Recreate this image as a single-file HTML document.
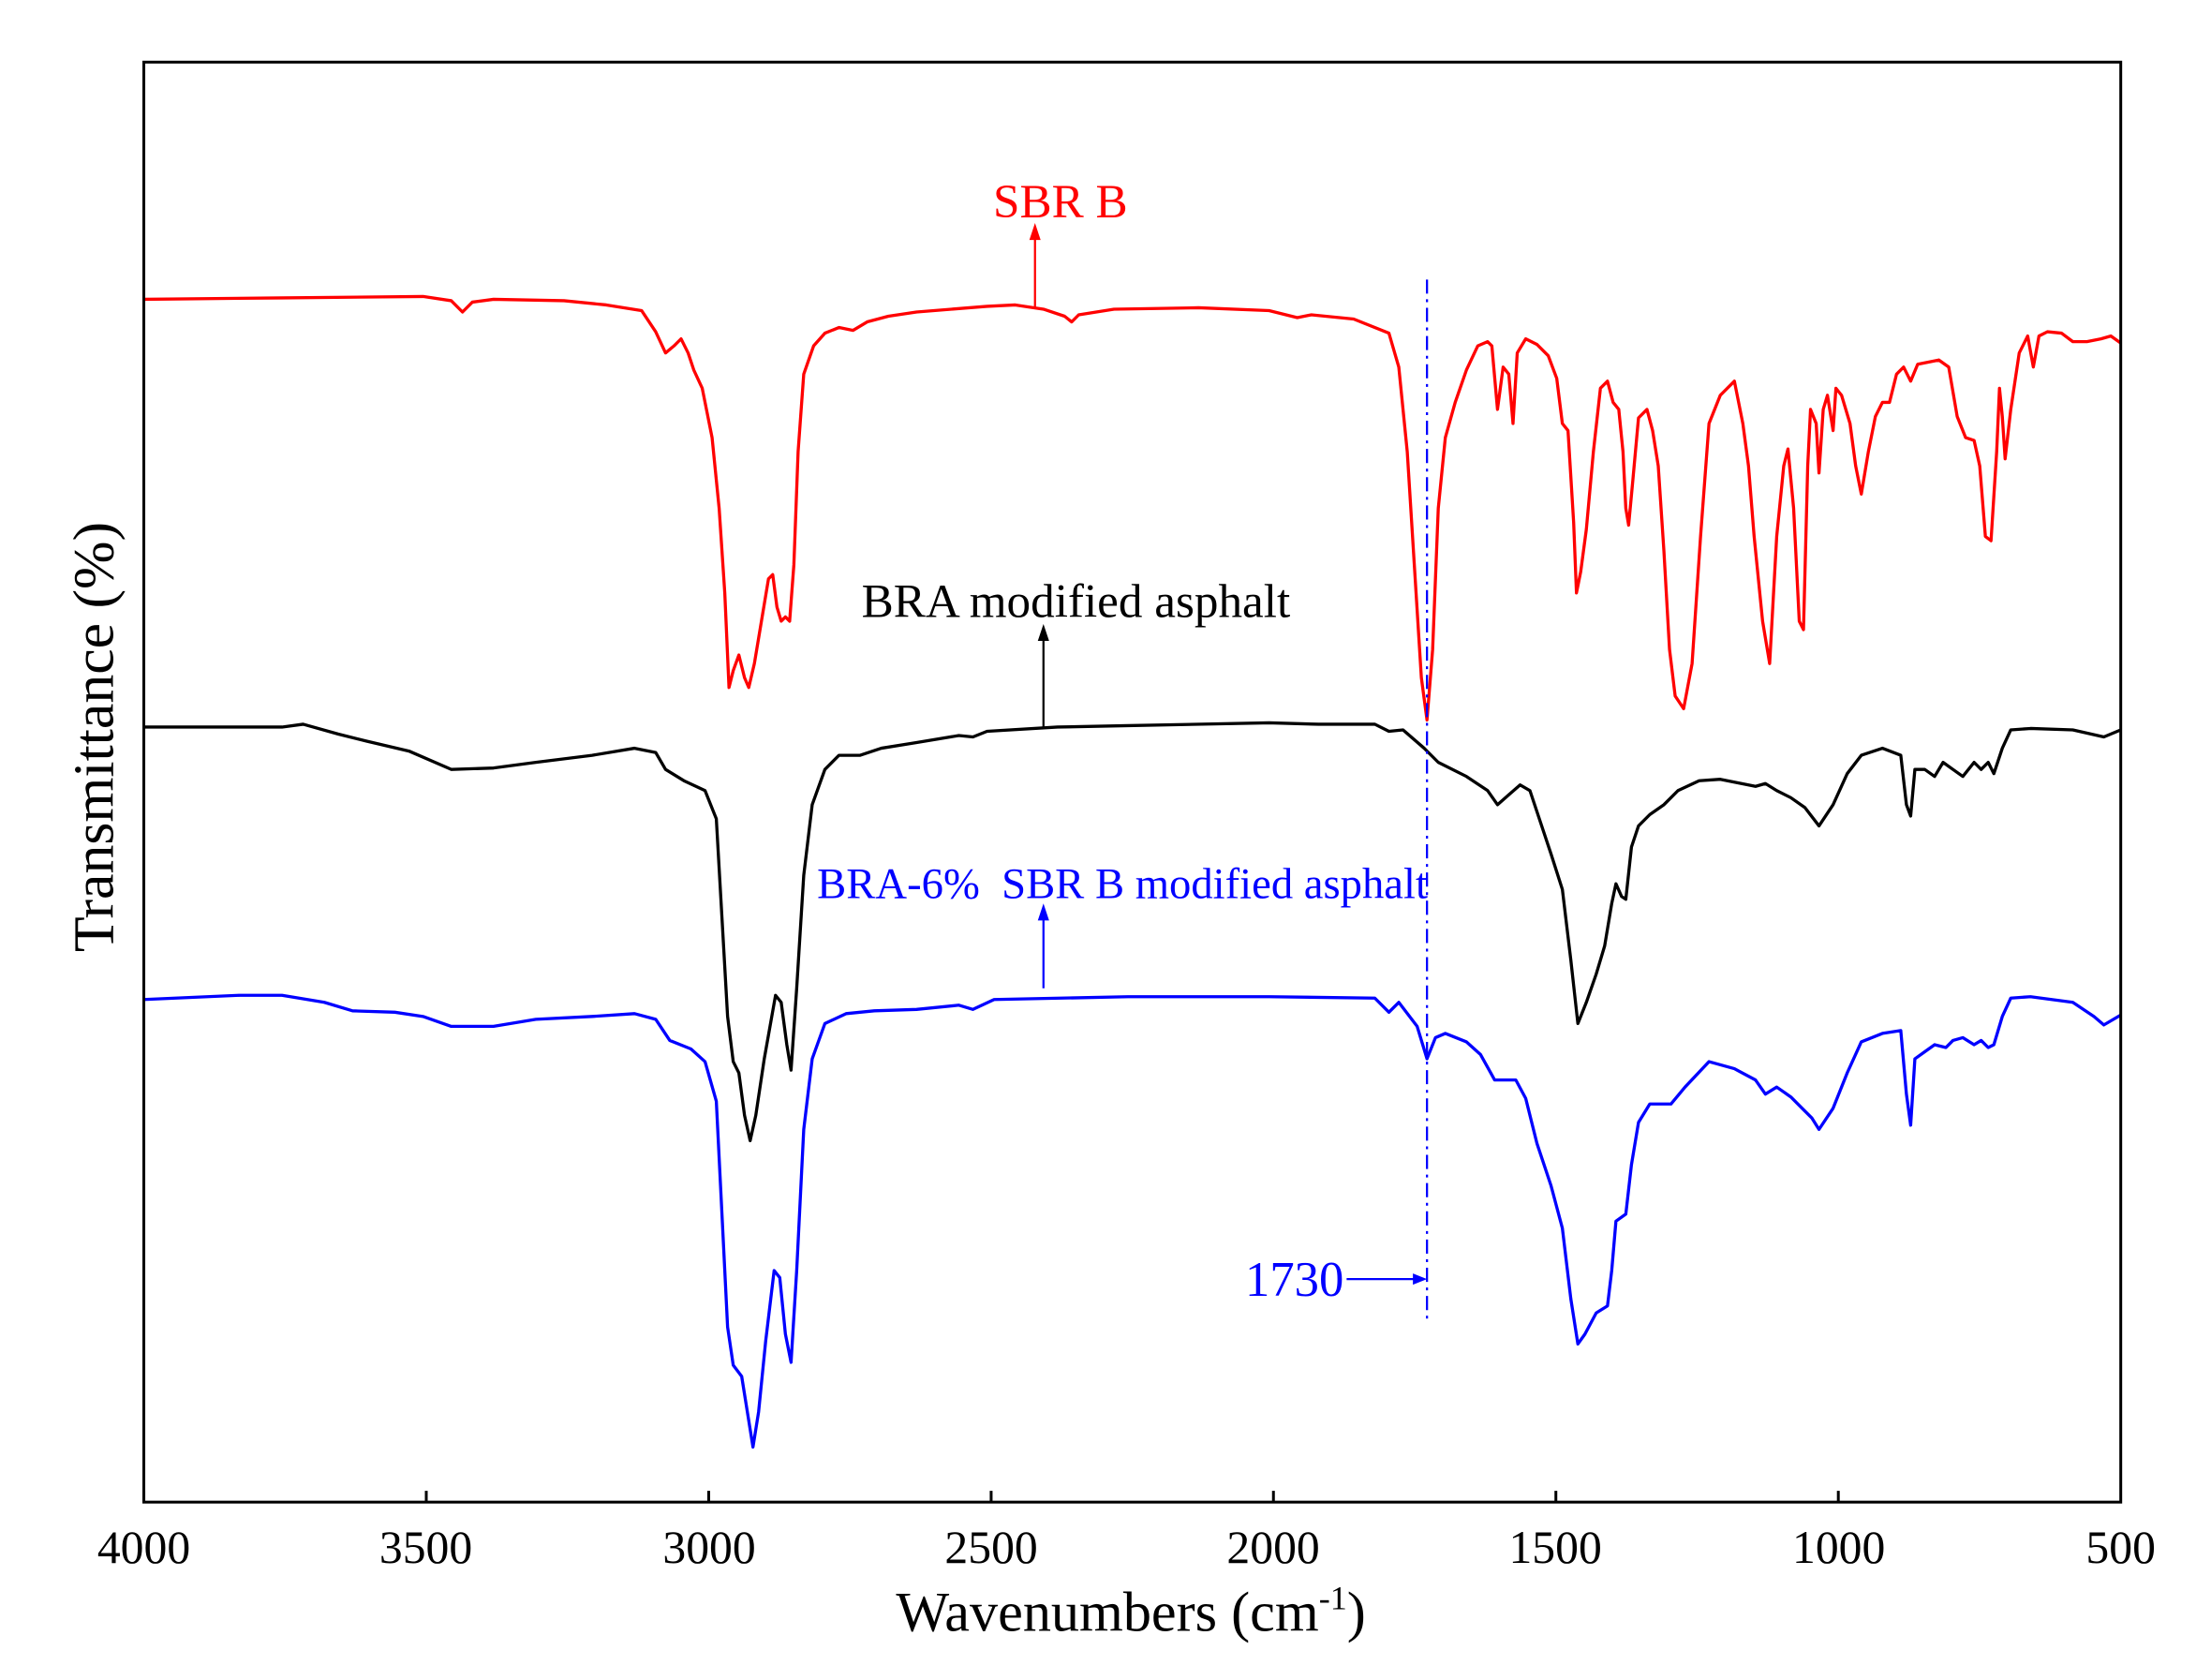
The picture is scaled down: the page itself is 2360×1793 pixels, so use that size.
<!DOCTYPE html>
<html><head><meta charset="utf-8"><style>html,body{margin:0;padding:0;background:#fff}svg{display:block}</style></head>
<body>
<svg width="2360" height="1793" viewBox="0 0 1568 1190" preserveAspectRatio="none" xmlns="http://www.w3.org/2000/svg" font-family="Liberation Serif, serif">
<rect x="0" y="0" width="1568" height="1190" fill="#fff"/>
<g fill="none" stroke-width="2.2" stroke-linejoin="round">
<polyline stroke="#f00" points="102,212 200,211 300,210 320,213 328,221 335,214 350,212 400,213 430,216 455,220 465,235 472,250 478,245 483,240 488,250 492,262 498,275 505,310 510,360 514,420 517,487 520,475 524,464 528,480 531,487 535,470 540,440 545,410 548,407 551,430 554,440 557,437 560,440 563,400 566,320 570,265 577,245 585,236 595,232 605,234 615,228 630,224 650,221 700,217 720,216 740,219 755,224 760,228 765,223 790,219 850,218 900,220 920,225 930,223 960,226 985,236 992,260 998,320 1003,400 1008,480 1012,510 1016,460 1020,360 1025,310 1032,285 1040,262 1048,245 1055,242 1058,245 1062,290 1066,260 1070,265 1073,300 1076,250 1082,240 1090,244 1098,252 1104,268 1108,300 1112,305 1116,370 1118,420 1121,405 1125,375 1130,320 1135,275 1140,270 1144,285 1148,290 1151,320 1153,360 1155,372 1158,340 1162,296 1168,290 1172,305 1176,330 1180,390 1184,460 1188,493 1194,502 1200,470 1206,380 1212,300 1220,280 1230,270 1236,300 1240,330 1244,380 1250,440 1255,470 1260,380 1265,330 1268,318 1272,360 1276,440 1279,446 1282,330 1284,290 1288,300 1290,335 1293,290 1296,280 1300,305 1302,275 1306,280 1312,300 1316,330 1320,350 1325,320 1330,295 1335,285 1340,285 1345,265 1350,260 1355,270 1360,258 1375,255 1382,260 1388,295 1394,310 1400,312 1404,330 1408,380 1412,383 1416,320 1418,275 1420,295 1422,325 1426,290 1432,250 1438,238 1442,260 1446,238 1452,235 1462,236 1470,242 1480,242 1490,240 1497,238 1504,243"/>
<polyline stroke="#000" points="102,515 200,515 215,513 240,520 260,525 290,532 320,545 350,544 380,540 420,535 450,530 465,533 472,545 485,553 500,560 508,580 512,650 516,720 520,752 524,760 528,790 532,808 536,790 542,750 550,705 554,710 558,740 561,758 565,700 570,620 576,570 585,545 595,535 610,535 625,530 650,526 680,521 690,522 700,518 750,515 800,514 900,512 935,513 975,513 985,518 995,517 1010,530 1020,540 1040,550 1055,560 1062,570 1070,563 1078,556 1085,560 1090,575 1100,605 1108,630 1114,680 1119,725 1125,710 1132,690 1138,670 1143,640 1146,626 1150,635 1153,637 1157,600 1162,585 1170,577 1180,570 1190,560 1205,553 1220,552 1235,555 1245,557 1252,555 1260,560 1270,565 1280,572 1290,585 1300,570 1310,548 1320,535 1335,530 1348,535 1352,570 1355,578 1358,545 1365,545 1372,550 1378,540 1385,545 1392,550 1400,540 1405,545 1410,540 1414,548 1420,530 1426,517 1440,516 1470,517 1492,522 1504,517"/>
<polyline stroke="#00f" points="102,708 170,705 200,705 230,710 250,716 280,717 300,720 320,727 350,727 380,722 420,720 450,718 465,722 475,737 490,743 500,752 508,780 512,860 516,940 520,967 526,975 530,1000 534,1025 538,1000 543,950 549,900 553,905 557,945 561,965 565,900 570,800 576,750 585,725 600,718 620,716 650,715 680,712 690,715 705,708 800,706 900,706 975,707 985,717 992,710 1005,727 1012,750 1018,735 1025,732 1040,738 1050,747 1060,765 1075,765 1082,778 1090,810 1100,840 1108,870 1114,920 1119,952 1124,945 1132,930 1140,925 1143,900 1146,865 1153,860 1157,825 1162,795 1170,782 1185,782 1195,770 1212,752 1230,757 1245,765 1252,775 1260,770 1270,777 1278,785 1285,792 1290,800 1300,785 1310,760 1320,738 1335,732 1348,730 1352,775 1355,797 1358,750 1365,745 1372,740 1380,742 1385,737 1392,735 1400,740 1405,737 1410,742 1414,740 1420,720 1426,707 1440,706 1470,710 1485,720 1492,726 1504,719"/>
</g>
<line x1="1012" y1="198" x2="1012" y2="935" stroke="#00f" stroke-width="1.5" stroke-dasharray="10,4,2,4"/>
<line x1="955" y1="906" x2="1006" y2="906" stroke="#00f" stroke-width="1.5"/>
<polygon points="1012,906 1002,902 1002,910" fill="#00f"/>
<text x="918" y="918" font-size="35" fill="#00f" text-anchor="middle">1730</text>
<line x1="734" y1="218" x2="734" y2="168" stroke="#f00" stroke-width="1.5"/>
<polygon points="734,158 730,170 738,170" fill="#f00"/>
<text x="752" y="154" font-size="34" fill="#f00" text-anchor="middle">SBR B</text>
<line x1="740" y1="515" x2="740" y2="452" stroke="#000" stroke-width="1.5"/>
<polygon points="740,442 736,454 744,454" fill="#000"/>
<text x="763" y="437" font-size="34" fill="#000" text-anchor="middle">BRA modified asphalt</text>
<line x1="740" y1="700" x2="740" y2="650" stroke="#00f" stroke-width="1.5"/>
<polygon points="740,640 736,652 744,652" fill="#00f"/>
<text x="796" y="636" font-size="31" fill="#00f" text-anchor="middle" xml:space="preserve">BRA-6%  SBR B modified asphalt</text>
<rect x="102" y="44" width="1402" height="1020" fill="none" stroke="#000" stroke-width="2"/>
<g stroke="#000" stroke-width="2">
<line x1="102" y1="1064" x2="102" y2="1056"/><line x1="302.3" y1="1064" x2="302.3" y2="1056"/><line x1="502.6" y1="1064" x2="502.6" y2="1056"/><line x1="702.9" y1="1064" x2="702.9" y2="1056"/><line x1="903.1" y1="1064" x2="903.1" y2="1056"/><line x1="1103.4" y1="1064" x2="1103.4" y2="1056"/><line x1="1303.7" y1="1064" x2="1303.7" y2="1056"/>
</g>
<g font-size="33" text-anchor="middle" fill="#000">
<text x="102" y="1107">4000</text><text x="302" y="1107">3500</text><text x="503" y="1107">3000</text><text x="703" y="1107">2500</text><text x="903" y="1107">2000</text><text x="1103" y="1107">1500</text><text x="1304" y="1107">1000</text><text x="1504" y="1107">500</text>
</g>
<text x="802" y="1155" font-size="40" text-anchor="middle">Wavenumbers (cm<tspan font-size="24" dy="-15">-1</tspan><tspan dy="15">)</tspan></text>
<text transform="translate(80,522) rotate(-90)" font-size="41" text-anchor="middle">Transmittance (%)</text>
</svg>
</body></html>
